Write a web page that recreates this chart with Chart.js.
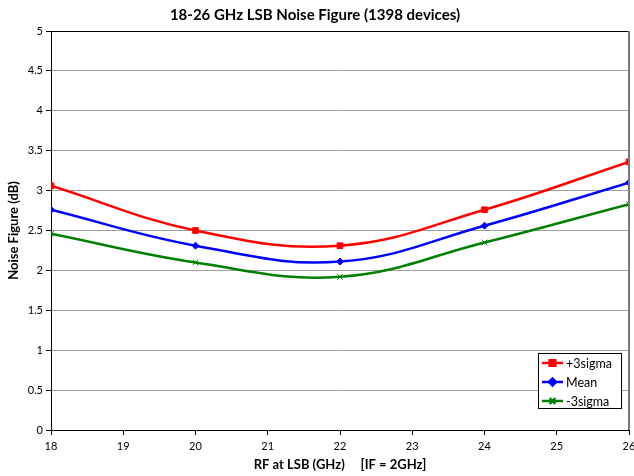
<!DOCTYPE html>
<html>
<head>
<meta charset="utf-8">
<script src="https://cdn.jsdelivr.net/npm/chart.js@4/dist/chart.umd.min.js"></script>
<style>
  html, body { margin: 0; padding: 0; background: #fff; }
  #wrap { width: 634px; height: 476px; }
</style>
</head>
<body>
<div id="wrap"><canvas id="nfChart" width="634" height="476"></canvas></div>
<script>
const freqs = [18, 20, 22, 24, 26];
const plus3sigma = [3.06, 2.50, 2.31, 2.76, 3.36];
const mean = [2.76, 2.31, 2.11, 2.56, 3.10];
const minus3sigma = [2.46, 2.10, 1.92, 2.35, 2.83];
const seriesNames = ["+3sigma", "Mean", "-3sigma"];

const FONT = "Lato, 'Open Sans', sans-serif";

const toPts = vals => vals.map((v, i) => ({ x: freqs[i], y: v }));

// plot frame (top black, right grey) + boxed legend inside the plot
const framePlugin = {
    id: "frame",
    afterDraw(chart) {
        const ctx = chart.ctx;
        const a = chart.chartArea;
        ctx.save();
        ctx.strokeStyle = "#000";
        ctx.lineWidth = 1;
        ctx.beginPath();
        ctx.moveTo(a.left, a.top + 0.5);
        ctx.lineTo(a.right, a.top + 0.5);
        ctx.stroke();
        ctx.strokeStyle = "#777";
        ctx.lineWidth = 2;
        ctx.beginPath();
        ctx.moveTo(a.right, a.top);
        ctx.lineTo(a.right, a.bottom);
        ctx.stroke();

        // legend
        const bx = 538, by = 353, bw = 83, bh = 55;
        ctx.fillStyle = "#fff";
        ctx.fillRect(bx, by, bw, bh);
        ctx.strokeStyle = "#000";
        ctx.lineWidth = 1;
        ctx.strokeRect(bx + 0.5, by + 0.5, bw, bh);
        chart.data.datasets.forEach((ds, i) => {
            const y = 363 + i * 19;
            ctx.strokeStyle = ds.borderColor;
            ctx.lineWidth = 2.5;
            ctx.beginPath();
            ctx.moveTo(542, y);
            ctx.lineTo(563, y);
            ctx.stroke();
            ctx.fillStyle = ds.pointBackgroundColor;
            ctx.strokeStyle = ds.pointBorderColor;
            Chart.helpers.drawPoint(ctx, {
                pointStyle: ds.pointStyle,
                radius: ds.pointRadius,
                borderWidth: ds.pointBorderWidth,
                rotation: 0
            }, 552.5, y);
            ctx.fillStyle = "#000";
            ctx.font = "12.5px " + FONT;
            ctx.textBaseline = "middle";
            ctx.textAlign = "left";
            ctx.fillText(ds.label, 566, y + 1);
        });
        ctx.restore();
    }
};

new Chart(document.getElementById("nfChart"), {
    type: "line",
    data: {
        datasets: [{
            label: seriesNames[0],
            data: toPts(plus3sigma),
            borderColor: "#ff0000",
            pointBackgroundColor: "#ff0000",
            pointBorderColor: "#ff0000",
            pointStyle: "rect",
            pointRadius: 4,
            pointBorderWidth: 1,
            borderWidth: 2.5,
            tension: 0.4,
            fill: false
        }, {
            label: seriesNames[1],
            data: toPts(mean),
            borderColor: "#0000ff",
            pointBackgroundColor: "#0000ff",
            pointBorderColor: "#0000ff",
            pointStyle: "rectRot",
            pointRadius: 3.5,
            pointBorderWidth: 1,
            borderWidth: 2.5,
            tension: 0.4,
            fill: false
        }, {
            label: seriesNames[2],
            data: toPts(minus3sigma),
            borderColor: "#008000",
            pointBackgroundColor: "#008000",
            pointBorderColor: "#008000",
            pointStyle: "crossRot",
            pointRadius: 4,
            pointBorderWidth: 1,
            borderWidth: 2.5,
            tension: 0.4,
            fill: false
        }]
    },
    options: {
        responsive: false,
        animation: false,
        layout: { padding: { left: 0, right: 4, top: 0, bottom: 0 } },
        plugins: {
            legend: { display: false },
            tooltip: { enabled: false },
            title: {
                display: true,
                text: "18-26 GHz LSB Noise Figure (1398 devices)",
                color: "#000",
                font: { family: FONT, size: 15, weight: "bold" },
                padding: { top: 6, bottom: 7 }
            }
        },
        scales: {
            x: {
                type: "linear",
                min: 18,
                max: 26,
                ticks: { stepSize: 1, color: "#000", padding: 5, font: { family: FONT, size: 11 } },
                grid: { drawOnChartArea: false, tickLength: 5, tickColor: "#000" },
                border: { color: "#000", width: 1 },
                title: {
                    display: true,
                    text: "RF at LSB (GHz)     [IF = 2GHz]",
                    color: "#000",
                    font: { family: FONT, size: 13, weight: "bold" },
                    padding: { top: 0, bottom: 3 }
                },
                afterFit(scale) {
                    scale.height = 46;
                    scale.paddingLeft = 0;
                    scale.paddingRight = 0;
                }
            },
            y: {
                min: 0,
                max: 5,
                ticks: {
                    stepSize: 0.5,
                    color: "#000",
                    padding: 3,
                    font: { family: FONT, size: 11 },
                    callback: v => String(v)
                },
                grid: { color: "#a0a0a0", tickColor: "#000", tickLength: 5 },
                border: { color: "#000", width: 1 },
                title: {
                    display: true,
                    text: "Noise Figure (dB)",
                    color: "#000",
                    font: { family: FONT, size: 13, weight: "bold" },
                    padding: { top: 6, bottom: 0 }
                },
                afterFit(scale) {
                    scale.width = 51;
                }
            }
        }
    },
    plugins: [framePlugin]
});
</script>
</body>
</html>
